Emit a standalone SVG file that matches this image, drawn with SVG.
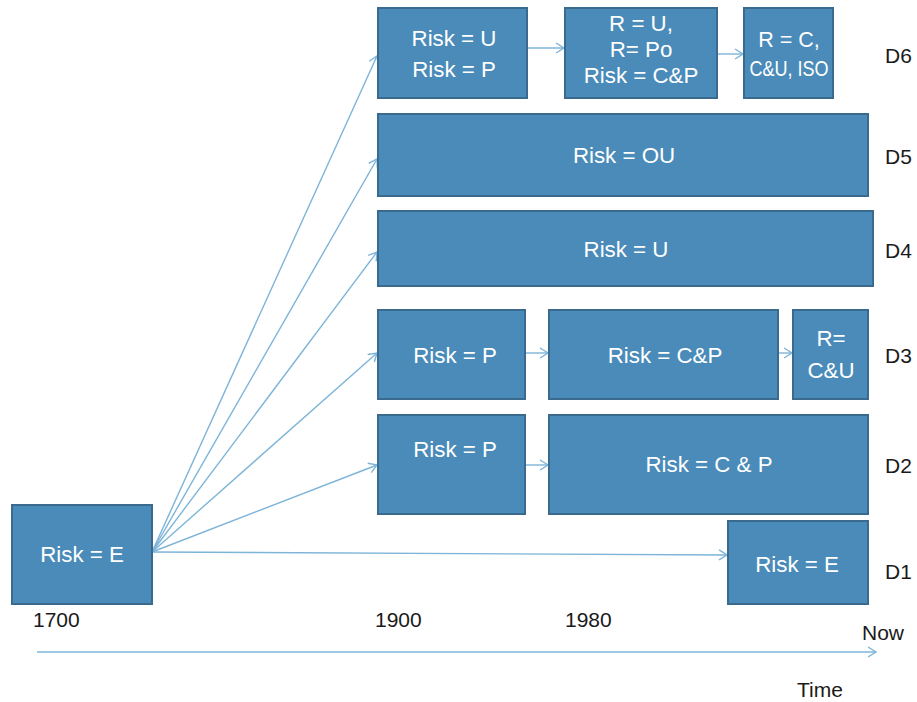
<svg xmlns="http://www.w3.org/2000/svg" width="917" height="702" viewBox="0 0 917 702">
  <defs>
    <style>
      .box { fill: #4a8bb9; stroke: #3a6a8e; stroke-width: 2; }
      .in { font-family: "Liberation Sans", Arial, sans-serif; font-size: 22.3px; fill: #ffffff; text-anchor: middle; }
      .sm { font-size: 21.5px; }
      .lbl { font-family: "Liberation Sans", Arial, sans-serif; font-size: 21px; fill: #1a1a1a; }
      .ln { fill: none; stroke: #7db4d8; stroke-width: 1.4; }
    </style>
    <marker id="chev" markerUnits="userSpaceOnUse" markerWidth="14" markerHeight="14" viewBox="0 0 14 14" refX="13" refY="7" orient="auto">
      <path d="M5,2 L13,7 L5,12" fill="none" stroke="#7db4d8" stroke-width="1.4"/>
    </marker>
  </defs>

  <rect width="917" height="702" fill="#ffffff"/>

  <!-- connectors -->
  <g id="connectors" class="ln" marker-end="url(#chev)">
    <line x1="152" y1="552" x2="377" y2="56"/>
    <line x1="152" y1="552" x2="377" y2="159"/>
    <line x1="152" y1="552" x2="377" y2="252"/>
    <line x1="152" y1="552" x2="377" y2="353"/>
    <line x1="152" y1="552" x2="377" y2="465"/>
    <line x1="152" y1="552" x2="727" y2="555"/>
    <line x1="527" y1="48" x2="564" y2="48"/>
    <line x1="717" y1="54" x2="743" y2="54"/>
    <line x1="525" y1="353" x2="548" y2="353"/>
    <line x1="778" y1="353" x2="792" y2="353"/>
    <line x1="525" y1="465" x2="548" y2="465"/>
    <line x1="37" y1="652" x2="876" y2="652"/>
  </g>

  <!-- origin -->
  <g id="e1700">
    <rect class="box" x="12" y="505" width="140" height="99"/>
    <text class="in" x="82" y="562">Risk = E</text>
  </g>

  <!-- D6 -->
  <g id="d6a">
    <rect class="box" x="378" y="8" width="149" height="90"/>
    <text class="in" x="454" y="46">Risk = U</text>
    <text class="in" x="454" y="77">Risk = P</text>
  </g>
  <g id="d6b">
    <rect class="box" x="565" y="8" width="152" height="90"/>
    <text class="in" x="641" y="31">R = U,</text>
    <text class="in" x="641" y="57">R= Po</text>
    <text class="in" x="641" y="83">Risk = C&amp;P</text>
  </g>
  <g id="d6c">
    <rect class="box" x="744" y="8" width="89" height="90"/>
    <text class="in sm" x="789" y="47">R = C,</text>
    <text class="in sm" x="789" y="76" textLength="79" lengthAdjust="spacingAndGlyphs">C&amp;U, ISO</text>
  </g>

  <!-- D5 -->
  <g id="d5">
    <rect class="box" x="378" y="114" width="490" height="82"/>
    <text class="in" x="624" y="163">Risk = OU</text>
  </g>

  <!-- D4 -->
  <g id="d4">
    <rect class="box" x="378" y="211" width="495" height="75"/>
    <text class="in" x="626" y="257">Risk = U</text>
  </g>

  <!-- D3 -->
  <g id="d3a">
    <rect class="box" x="378" y="310" width="147" height="89"/>
    <text class="in" x="455" y="363">Risk = P</text>
  </g>
  <g id="d3b">
    <rect class="box" x="549" y="310" width="229" height="89"/>
    <text class="in" x="665" y="363">Risk = C&amp;P</text>
  </g>
  <g id="d3c">
    <rect class="box" x="793" y="310" width="75" height="89"/>
    <text class="in" x="831" y="346">R=</text>
    <text class="in" x="831" y="378">C&amp;U</text>
  </g>

  <!-- D2 -->
  <g id="d2a">
    <rect class="box" x="378" y="415" width="147" height="99"/>
    <text class="in" x="455" y="457">Risk = P</text>
  </g>
  <g id="d2b">
    <rect class="box" x="549" y="415" width="319" height="99"/>
    <text class="in" x="709" y="472">Risk = C &amp; P</text>
  </g>

  <!-- D1 -->
  <g id="d1">
    <rect class="box" x="728" y="521" width="140" height="83"/>
    <text class="in" x="797" y="572">Risk = E</text>
  </g>

  <!-- row labels -->
  <g id="rows">
    <text class="lbl" x="885" y="63">D6</text>
    <text class="lbl" x="885" y="164">D5</text>
    <text class="lbl" x="885" y="258">D4</text>
    <text class="lbl" x="885" y="363">D3</text>
    <text class="lbl" x="885" y="473">D2</text>
    <text class="lbl" x="885" y="579">D1</text>
  </g>

  <!-- time axis labels -->
  <g id="axis">
    <text class="lbl" x="33" y="627">1700</text>
    <text class="lbl" x="375" y="627">1900</text>
    <text class="lbl" x="565" y="627">1980</text>
    <text class="lbl" x="862" y="640">Now</text>
    <text class="lbl" x="797" y="697">Time</text>
  </g>
</svg>
